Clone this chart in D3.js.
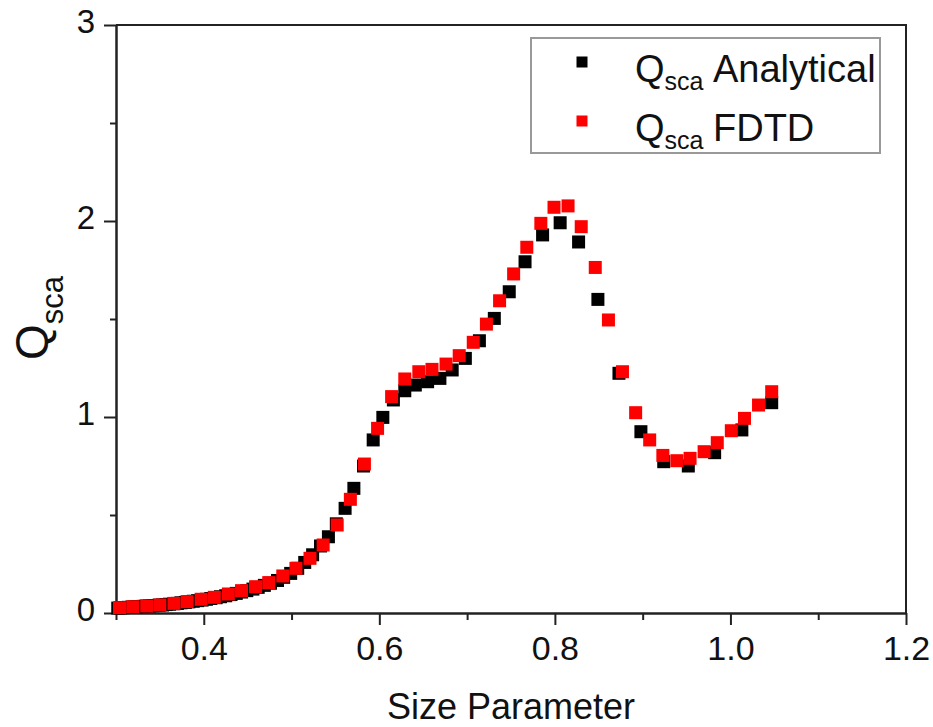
<!DOCTYPE html>
<html>
<head>
<meta charset="utf-8">
<script src="https://cdn.jsdelivr.net/npm/d3@7"></script>
<style>
  body { margin: 0; background: #fff; }
  svg { display: block; font-family: "Liberation Sans", Arial, sans-serif; }
</style>
</head>
<body>
<svg width="933" height="727"></svg>
<script>
// FDTD points (red)
var fdtdX = [0.304, 0.319, 0.335, 0.350, 0.366, 0.381, 0.397, 0.412, 0.428, 0.443,
             0.459, 0.474, 0.490, 0.505, 0.521, 0.536, 0.552, 0.567, 0.583, 0.598,
             0.614, 0.629, 0.645, 0.660, 0.676, 0.691, 0.707, 0.722, 0.737, 0.753,
             0.768, 0.784, 0.799, 0.815, 0.830, 0.846, 0.861, 0.877, 0.892, 0.908,
             0.923, 0.939, 0.954, 0.970, 0.985, 1.001, 1.016, 1.032, 1.047];
var fdtdY = [0.027, 0.032, 0.036, 0.041, 0.049, 0.058, 0.070, 0.080, 0.097, 0.114,
             0.134, 0.155, 0.189, 0.228, 0.279, 0.347, 0.449, 0.580, 0.760, 0.942,
             1.104, 1.194, 1.231, 1.243, 1.270, 1.313, 1.381, 1.474, 1.593, 1.730,
             1.866, 1.988, 2.070, 2.077, 1.971, 1.763, 1.495, 1.231, 1.022, 0.883,
             0.804, 0.777, 0.789, 0.823, 0.869, 0.930, 0.993, 1.061, 1.129];

// analytical points (black)
var anaX = [0.302, 0.305, 0.308, 0.311, 0.314, 0.318, 0.321, 0.324, 0.328, 0.331,
            0.334, 0.338, 0.342, 0.345, 0.349, 0.353, 0.357, 0.361, 0.366, 0.370,
            0.374, 0.379, 0.383, 0.388, 0.393, 0.398, 0.403, 0.408, 0.414, 0.419,
            0.425, 0.431, 0.437, 0.443, 0.449, 0.456, 0.462, 0.469, 0.476, 0.484,
            0.491, 0.499, 0.507, 0.515, 0.524, 0.533, 0.542, 0.551, 0.561, 0.571,
            0.582, 0.593, 0.604, 0.616, 0.629, 0.641, 0.655, 0.669, 0.683, 0.698,
            0.714, 0.731, 0.748, 0.766, 0.786, 0.806, 0.827, 0.849, 0.873, 0.898,
            0.924, 0.952, 0.982, 1.013, 1.047];
var anaY = [0.025, 0.026, 0.027, 0.028, 0.029, 0.030, 0.031, 0.032, 0.033, 0.034,
            0.035, 0.036, 0.037, 0.038, 0.040, 0.041, 0.043, 0.045, 0.047, 0.049,
            0.052, 0.054, 0.057, 0.060, 0.063, 0.066, 0.070, 0.074, 0.078, 0.083,
            0.088, 0.094, 0.100, 0.107, 0.114, 0.122, 0.131, 0.141, 0.152, 0.166,
            0.182, 0.202, 0.228, 0.258, 0.297, 0.342, 0.389, 0.455, 0.534, 0.636,
            0.750, 0.883, 0.998, 1.087, 1.134, 1.163, 1.180, 1.197, 1.240, 1.299,
            1.389, 1.503, 1.639, 1.792, 1.929, 1.991, 1.893, 1.600, 1.223, 0.925,
            0.772, 0.750, 0.818, 0.934, 1.073];

var xMajor = [0.4, 0.6, 0.8, 1.0, 1.2];
var xMinor = [0.3, 0.5, 0.7, 0.9, 1.1];
var yMajor = [0, 1, 2, 3];
var yMinor = [0.5, 1.5, 2.5];

var svg = d3.select("svg");
var x = d3.scaleLinear().domain([0.3, 1.2]).range([116, 906]);
var y = d3.scaleLinear().domain([0, 3]).range([613, 25]);

var styleAxis = function (g) {
    g.select(".domain").attr("stroke", "#222").attr("stroke-width", 2);
    g.selectAll(".tick line").attr("stroke", "#222").attr("stroke-width", 2);
    g.selectAll(".tick text").attr("fill", "#111")
        .attr("font-family", "'Liberation Sans', Arial, sans-serif");
};

// x axis
svg.append("g")
    .attr("transform", "translate(0," + y(0) + ")")
    .call(d3.axisBottom(x).tickValues(xMinor).tickSize(7).tickSizeOuter(0).tickFormat(""))
    .call(styleAxis);
svg.append("g")
    .attr("transform", "translate(0," + y(0) + ")")
    .call(d3.axisBottom(x).tickValues(xMajor).tickSize(12).tickSizeOuter(0)
        .tickPadding(11).tickFormat(d3.format(".1f")))
    .call(styleAxis)
    .selectAll(".tick text").attr("font-size", 34);

// y axis
svg.append("g")
    .attr("transform", "translate(" + x(0.3) + ",0)")
    .call(d3.axisLeft(y).tickValues(yMinor).tickSize(6).tickSizeOuter(0).tickFormat(""))
    .call(styleAxis);
svg.append("g")
    .attr("transform", "translate(" + x(0.3) + ",0)")
    .call(d3.axisLeft(y).tickValues(yMajor).tickSize(12).tickSizeOuter(0)
        .tickPadding(9).tickFormat(d3.format("d")))
    .call(styleAxis)
    .selectAll(".tick text").attr("font-size", 33).attr("dy", "0.22em");

// top and right frame
svg.append("path")
    .attr("d", "M" + x(0.3) + "," + y(3) + "H" + x(1.2) + "V" + y(0))
    .attr("fill", "none").attr("stroke", "#222").attr("stroke-width", 2);

// points
var size = 13;
svg.append("g").selectAll("rect").data(d3.range(anaX.length)).enter()
    .append("rect")
    .attr("x", function (i) { return x(anaX[i]) - size / 2; })
    .attr("y", function (i) { return y(anaY[i]) - size / 2; })
    .attr("width", size).attr("height", size)
    .attr("fill", "#000");
svg.append("g").selectAll("rect").data(d3.range(fdtdX.length)).enter()
    .append("rect")
    .attr("x", function (i) { return x(fdtdX[i]) - size / 2; })
    .attr("y", function (i) { return y(fdtdY[i]) - size / 2; })
    .attr("width", size).attr("height", size)
    .attr("fill", "#ff0000");

// axis titles
svg.append("text")
    .text("Size Parameter")
    .attr("x", (x(0.3) + x(1.2)) / 2)
    .attr("y", 719)
    .attr("text-anchor", "middle")
    .attr("font-size", 36)
    .attr("fill", "#111");

var yt = svg.append("text")
    .attr("transform", "translate(48,360) rotate(-90)")
    .attr("font-size", 46)
    .attr("fill", "#111");
yt.append("tspan").text("Q");
yt.append("tspan").text("sca").attr("font-size", 31).attr("dy", 15);

// legend
svg.append("rect")
    .attr("x", 531).attr("y", 38).attr("width", 349).attr("height", 115)
    .attr("fill", "#fff").attr("stroke", "#999").attr("stroke-width", 2);

var legend = [
    { label: "Analytical", color: "#000", my: 62, ty: 82 },
    { label: "FDTD", color: "#ff0000", my: 121, ty: 141 }
];
legend.forEach(function (d) {
    svg.append("rect")
        .attr("x", 582 - 5.5).attr("y", d.my - 5.5)
        .attr("width", 11).attr("height", 11)
        .attr("fill", d.color);
    var t = svg.append("text")
        .attr("x", 635).attr("y", d.ty)
        .attr("font-size", 38).attr("fill", "#111");
    t.append("tspan").text("Q");
    t.append("tspan").text("sca").attr("font-size", 25).attr("dy", 8);
    t.append("tspan").text(d.label).attr("x", 713).attr("y", d.ty);
});
</script>
</body>
</html>
